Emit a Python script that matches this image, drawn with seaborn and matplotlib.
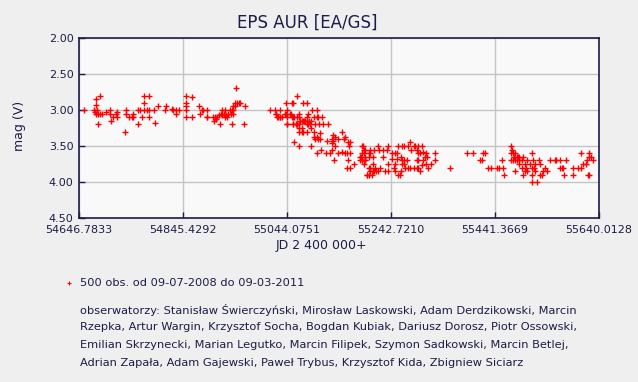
import numpy as np
import pandas as pd
import seaborn as sns
from matplotlib import pyplot as plt
from matplotlib.lines import Line2D

# JD of the left edge of the plot, observations are stored as days after it
JD0 = 54646.78

x_ticks = [54646.7833, 54845.4292, 55044.0751, 55242.7210, 55441.3669, 55640.0128]
x_labels = ['54646.7833', '54845.4292', '55044.0751', '55242.7210', '55441.3669', '55640.0128']
y_ticks = [2.0, 2.5, 3.0, 3.5, 4.0, 4.5]

days = [
    # 2008 / early 2009, out of eclipse
    10, 29, 31, 32, 34, 32, 33, 40, 36, 40,
    37, 43, 51, 59, 59, 64, 62, 70, 73, 73,
    88, 90, 90, 96, 101, 104, 104, 113, 117, 113,
    121, 124, 134, 124, 124, 130, 134, 134, 143, 146,
    151, 164, 167, 177, 179, 185, 185, 191, 205, 205,
    205, 216, 205, 205, 216, 229, 234, 245, 245,
    231, 236, 244, 255, 260, 262, 258, 264, 268, 271,
    273, 274, 277, 279, 279, 281, 282, 288, 292, 295,
    269, 292, 295, 298, 301, 306, 308, 298, 300, 317,
    316, 285, 290, 294,
    # ingress
    365, 374, 376, 383, 379, 384, 387, 395, 393, 398,
    403, 406, 409, 417, 428, 436, 398, 398, 409, 416,
    421, 425, 430, 435, 436, 409, 416, 421, 421, 425,
    421, 428, 436, 425, 438, 438, 435,
    376, 395, 404, 380, 383, 406, 411, 397, 409, 414,
    417, 420, 422, 427, 432, 439, 444,
    446, 454, 448, 454, 457, 465, 441, 451, 458, 467,
    476, 444, 448, 449, 454, 457, 460, 451, 460, 486,
    489, 483, 495, 503, 508, 507, 473, 483, 486, 489,
    514, 518, 411, 421, 444, 462, 471, 479, 483, 488,
    494, 503, 508, 512, 513, 516, 518, 526, 511, 518,
    454,
    # totality
    540, 543, 546, 545, 540, 539, 546, 553, 556, 553,
    562, 562, 556, 562, 550, 559,
    545, 540, 546, 537, 537, 540, 546, 545, 554, 556,
    564, 572, 573, 581, 588, 591, 581, 565, 575, 591,
    556, 550, 553, 564, 567, 572, 584, 591,
    602, 604, 609, 613, 615, 598, 604, 607, 598, 607,
    616, 615, 621, 626, 621, 604, 617, 610, 616, 620,
    632, 629, 639, 642, 648, 655, 634, 645, 623, 628,
    632, 639, 645, 648, 655, 662, 672, 667, 651, 648,
    651, 658, 662, 664, 661, 680, 680, 658, 648, 645,
    709,
    741, 753, 772, 775, 765, 769, 782, 786, 799, 803,
    810, 808, 812, 826, 827, 826, 829, 833, 831, 836,
    839, 841, 849, 826, 829, 833, 836, 841, 846, 841,
    846, 852, 854, 855, 861, 865, 866, 868, 869, 871,
    879, 880, 852, 855, 866, 871, 880, 884, 887, 890,
    894, 865, 875, 833, 849,
    900, 909, 912, 919, 919, 922, 925, 930, 926, 944,
    944, 954, 958, 958, 963, 968, 971, 975, 975, 977,
    982, 975, 973,
]

mag = [
    3.00, 3.00, 3.03, 3.05, 3.00, 2.85, 2.93, 2.80, 3.05, 3.05,
    3.20, 3.05, 3.03, 3.00, 3.05, 3.10, 3.15, 3.05, 3.03, 3.10,
    3.30, 3.00, 3.05, 3.10, 3.10, 3.05, 3.10, 3.00, 3.00, 3.20,
    3.10, 2.80, 2.80, 2.90, 3.00, 3.00, 3.00, 3.10, 3.00, 3.18,
    2.95, 3.00, 2.95, 2.98, 3.00, 3.00, 3.05, 3.00, 2.80, 2.90,
    2.95, 2.82, 3.00, 3.10, 3.10, 2.95, 3.00, 3.00, 3.10,
    3.05, 3.00, 3.10, 3.10, 3.10, 3.13, 3.15, 3.10, 3.07, 3.05,
    3.00, 3.07, 3.05, 3.00, 3.10, 3.07, 3.10, 3.00, 3.00, 3.00,
    3.20, 3.20, 2.95, 2.90, 2.90, 2.90, 2.90, 2.95, 2.70, 2.95,
    3.20, 3.05, 3.05, 3.05,
    3.00, 3.00, 3.05, 3.00, 3.10, 3.10, 3.10, 2.90, 3.05, 3.00,
    3.05, 2.90, 2.90, 2.80, 2.90, 2.90, 3.10, 3.20, 3.10, 3.10,
    3.10, 3.15, 3.15, 3.15, 3.10, 3.20, 3.20, 3.20, 3.25, 3.25,
    3.30, 3.30, 3.30, 3.30, 3.05, 3.20, 3.20,
    3.05, 3.05, 3.05, 3.10, 3.10, 3.10, 3.10, 3.20, 3.20, 3.20,
    3.20, 3.05, 3.15, 3.15, 3.15, 3.15, 3.15,
    3.00, 3.00, 3.10, 3.10, 3.10, 3.10, 3.20, 3.20, 3.20, 3.20,
    3.20, 3.25, 3.30, 3.37, 3.37, 3.40, 3.40, 3.40, 3.32, 3.35,
    3.37, 3.40, 3.40, 3.30, 3.37, 3.40, 3.43, 3.46, 3.43, 3.50,
    3.45, 3.45, 3.45, 3.50, 3.50, 3.55, 3.60, 3.60, 3.55, 3.70,
    3.60, 3.58, 3.60, 3.60, 3.70, 3.50, 3.60, 3.75, 3.80, 3.80,
    3.60,
    3.50, 3.50, 3.55, 3.60, 3.70, 3.65, 3.70, 3.60, 3.55, 3.80,
    3.65, 3.75, 3.85, 3.85, 3.90, 3.90,
    3.55, 3.60, 3.65, 3.65, 3.70, 3.70, 3.70, 3.75, 3.65, 3.60,
    3.55, 3.50, 3.55, 3.55, 3.55, 3.50, 3.65, 3.80, 3.80, 3.75,
    3.80, 3.90, 3.90, 3.85, 3.85, 3.85, 3.85, 3.85,
    3.80, 3.85, 3.90, 3.90, 3.85, 3.60, 3.60, 3.60, 3.68, 3.68,
    3.70, 3.65, 3.70, 3.70, 3.75, 3.75, 3.75, 3.50, 3.50, 3.50,
    3.45, 3.50, 3.50, 3.50, 3.50, 3.50, 3.55, 3.55, 3.80, 3.80,
    3.80, 3.80, 3.80, 3.80, 3.76, 3.75, 3.75, 3.80, 3.85, 3.60,
    3.60, 3.59, 3.60, 3.65, 3.65, 3.60, 3.70, 3.70, 3.70, 3.70,
    3.80,
    3.60, 3.60, 3.60, 3.60, 3.70, 3.70, 3.80, 3.80, 3.80, 3.80,
    3.80, 3.70, 3.90, 3.50, 3.55, 3.60, 3.60, 3.60, 3.65, 3.65,
    3.65, 3.65, 3.65, 3.70, 3.70, 3.70, 3.70, 3.70, 3.70, 3.75,
    3.80, 3.75, 3.80, 3.70, 3.75, 3.60, 3.80, 3.70, 3.80, 3.75,
    3.70, 3.75, 3.85, 3.85, 3.90, 3.85, 3.90, 3.90, 3.85, 3.80,
    3.85, 4.00, 4.00, 3.85, 3.90,
    3.70, 3.70, 3.70, 3.70, 3.80, 3.80, 3.80, 3.70, 3.90, 3.80,
    3.90, 3.80, 3.80, 3.60, 3.75, 3.75, 3.70, 3.60, 3.65, 3.65,
    3.70, 3.90, 3.90,
]

summary = '500 obs. od 09-07-2008 do 09-03-2011'
observers = [
    'obserwatorzy: Stanisław Świerczyński, Mirosław Laskowski, Adam Derdzikowski, Marcin',
    'Rzepka, Artur Wargin, Krzysztof Socha, Bogdan Kubiak, Dariusz Dorosz, Piotr Ossowski,',
    'Emilian Skrzynecki, Marian Legutko, Marcin Filipek, Szymon Sadkowski, Marcin Betlej,',
    'Adrian Zapała, Adam Gajewski, Paweł Trybus, Krzysztof Kida, Zbigniew Siciarz',
]

navy = '#1c1c48'
W, H = 638, 382

df = pd.DataFrame({'jd': JD0 + np.array(days), 'mag': mag})

fig = plt.figure(figsize=(W / 100, H / 100), dpi=100, facecolor='#efefef')
ax = fig.add_axes([79 / W, 1 - 218 / H, 520 / W, 180 / H])
ax.set_facecolor('#f9f9f9')

ax.grid(True, color='#c4c4c4', linewidth=1)
ax.set_axisbelow(True)

sns.scatterplot(data=df, x='jd', y='mag', marker='+', color='#ff0000',
                s=13, linewidth=1.0, ax=ax, legend=False, zorder=3)

ax.set_xlim(x_ticks[0], x_ticks[-1])
ax.set_ylim(4.5, 2.0)
ax.set_xticks(x_ticks)
ax.set_xticklabels(x_labels)
ax.set_yticks(y_ticks)
ax.set_yticklabels(['%.2f' % v for v in y_ticks])
ax.set_xlabel('')
ax.set_ylabel('')
ax.tick_params(direction='in', length=4, width=1, color=navy,
               labelcolor=navy, labelsize=8)
ax.tick_params(axis='x', pad=5)
ax.tick_params(axis='y', pad=4)
for sp in ax.spines.values():
    sp.set_color(navy)
    sp.set_linewidth(1.2)

fig.text(307 / W, 1 - 22.5 / H, 'EPS AUR [EA/GS]', ha='center', va='center',
         fontsize=12, color=navy)
fig.text(321 / W, 1 - 246 / H, 'JD 2 400 000+', ha='center', va='center',
         fontsize=9, color=navy)
fig.text(20 / W, 1 - 126 / H, 'mag (V)', ha='center', va='center',
         rotation=90, fontsize=9, color=navy)

# legend line under the chart
fig.add_artist(Line2D([69 / W], [1 - 282.5 / H], marker='+', color='#ff0000',
                      markersize=3, markeredgewidth=0.8, linestyle='none',
                      transform=fig.transFigure))
fig.text(80 / W, 1 - 282.5 / H, summary, ha='left', va='center',
         fontsize=8.2, color=navy)
for i, line in enumerate(observers):
    fig.text(80 / W, 1 - (309.5 + 18 * i) / H, line, ha='left', va='center',
             fontsize=8.2, color=navy)

fig.savefig('out.png', dpi=100, facecolor=fig.get_facecolor())
